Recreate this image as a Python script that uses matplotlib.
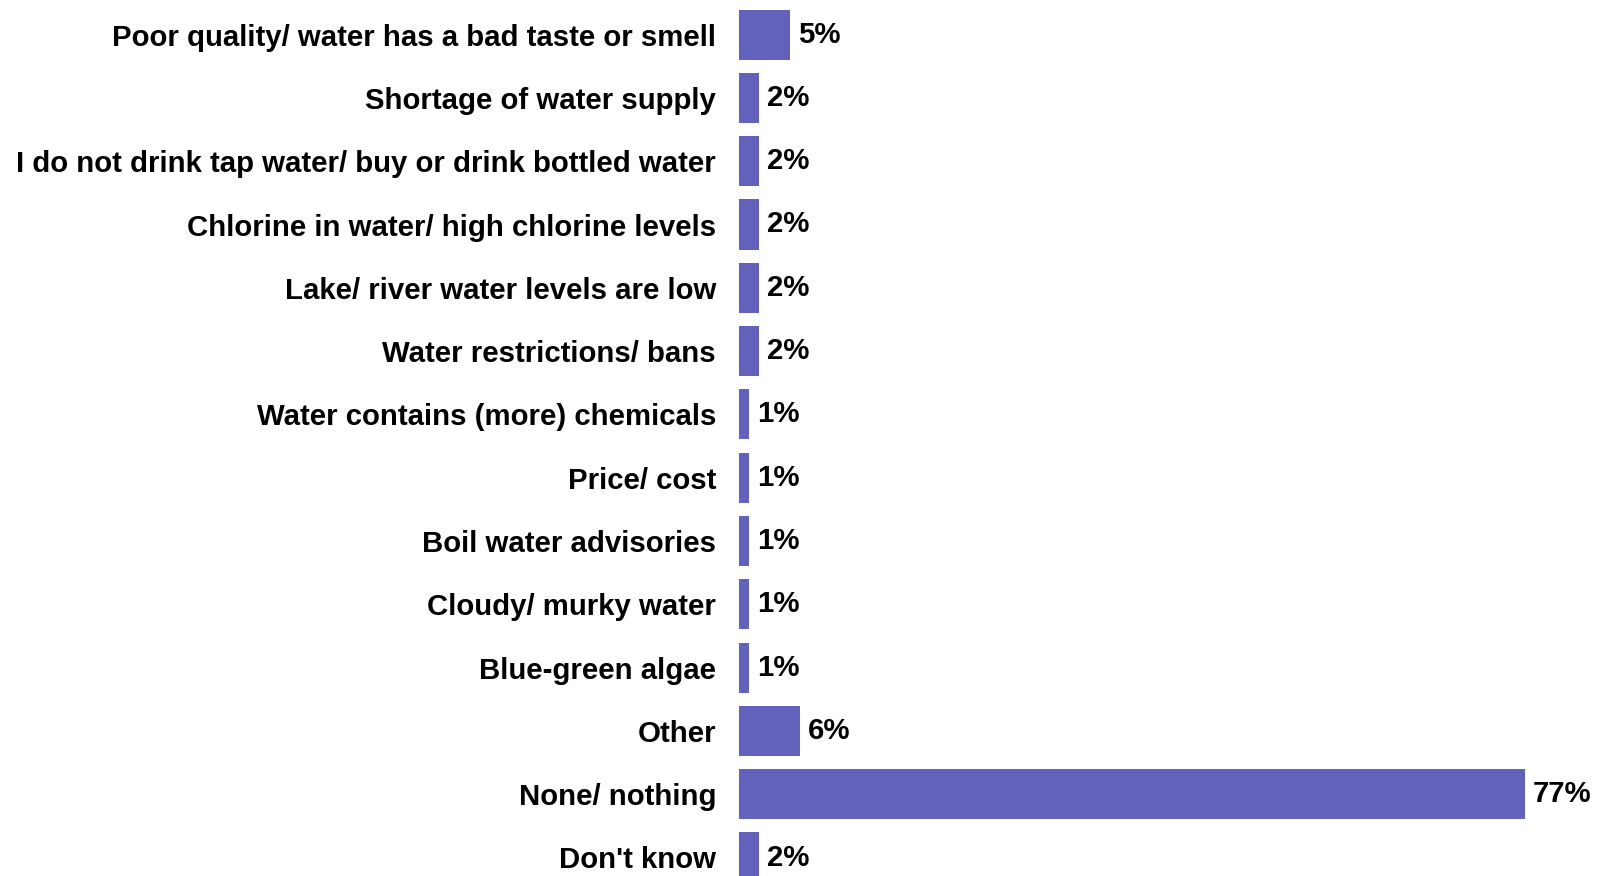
import matplotlib
matplotlib.use("Agg")
import matplotlib.pyplot as plt

categories = [
    "Poor quality/ water has a bad taste or smell",
    "Shortage of water supply",
    "I do not drink tap water/ buy or drink bottled water",
    "Chlorine in water/ high chlorine levels",
    "Lake/ river water levels are low",
    "Water restrictions/ bans",
    "Water contains (more) chemicals",
    "Price/ cost",
    "Boil water advisories",
    "Cloudy/ murky water",
    "Blue-green algae",
    "Other",
    "None/ nothing",
    "Don't know",
]
values = [5, 2, 2, 2, 2, 2, 1, 1, 1, 1, 1, 6, 77, 2]

BAR_COLOR = "#6262BC"
plt.rcParams["font.family"] = ["Liberation Sans", "DejaVu Sans"]

W, H, DPI = 1598, 876, 100
fig = plt.figure(figsize=(W / DPI, H / DPI), dpi=DPI)

x0 = 739
ax = fig.add_axes([x0 / W, 0, 1 - x0 / W, 1])

px_per_unit = 10.21
ax.set_xlim(0, (W - x0) / px_per_unit)
first_c, step = 34.6, 63.3
ax.set_ylim((H - first_c) / step, -first_c / step)

ypos = list(range(len(categories)))
ax.barh(ypos, values, height=0.79, color=BAR_COLOR, edgecolor="none")

for y, v in zip(ypos, values):
    ax.annotate(f"{v}%", xy=(v, y), xytext=(5.5, 0), textcoords="offset points",
                ha="left", va="center", fontsize=21.2, fontweight="bold", color="black")

ax.set_yticks(ypos)
ax.set_yticklabels(categories, fontsize=21.2, fontweight="bold")
ax.tick_params(axis="y", length=0, pad=16.5)
ax.set_xticks([])
for s in ax.spines.values():
    s.set_visible(False)

fig.savefig("out.png", dpi=DPI)
